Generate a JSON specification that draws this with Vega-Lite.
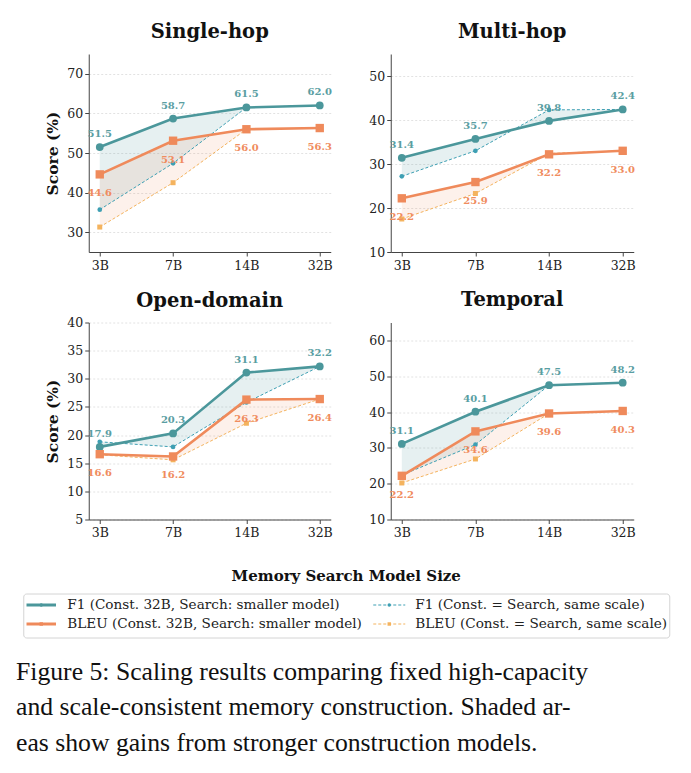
{
  "$schema": "https://vega.github.io/schema/vega-lite/v6.json",
  "padding": {"left": 16, "right": 5, "top": 21, "bottom": 8},
  "background": "white",
  "title": {
    "text": ["Figure 5: Scaling results comparing fixed high-capacity", "and scale-consistent memory construction. Shaded ar-", "eas show gains from stronger construction models."],
    "orient": "bottom",
    "anchor": "start",
    "dx": -4,
    "offset": 21.5,
    "font": "Liberation Serif",
    "fontSize": 25.7,
    "fontWeight": "normal",
    "color": "#111111",
    "lineHeight": 35.5
  },
  "datasets": {
    "scores": [
      {"panel": "Single-hop", "size": "3B", "f1": 51.5, "bleu": 44.6, "f1_same": 35.7, "bleu_same": 31.3},
      {"panel": "Single-hop", "size": "7B", "f1": 58.7, "bleu": 53.1, "f1_same": 47.4, "bleu_same": 42.5},
      {"panel": "Single-hop", "size": "14B", "f1": 61.5, "bleu": 56.0, "f1_same": 61.5, "bleu_same": 56.0},
      {"panel": "Single-hop", "size": "32B", "f1": 62.0, "bleu": 56.3, "f1_same": 62.0, "bleu_same": 56.3},
      {"panel": "Multi-hop", "size": "3B", "f1": 31.4, "bleu": 22.2, "f1_same": 27.2, "bleu_same": 17.5},
      {"panel": "Multi-hop", "size": "7B", "f1": 35.7, "bleu": 25.9, "f1_same": 33.0, "bleu_same": 23.3},
      {"panel": "Multi-hop", "size": "14B", "f1": 39.8, "bleu": 32.2, "f1_same": 42.3, "bleu_same": 32.4},
      {"panel": "Multi-hop", "size": "32B", "f1": 42.4, "bleu": 33.0, "f1_same": 42.4, "bleu_same": 33.0},
      {"panel": "Open-domain", "size": "3B", "f1": 17.9, "bleu": 16.6, "f1_same": 18.8, "bleu_same": 16.5},
      {"panel": "Open-domain", "size": "7B", "f1": 20.3, "bleu": 16.2, "f1_same": 17.9, "bleu_same": 15.6},
      {"panel": "Open-domain", "size": "14B", "f1": 31.1, "bleu": 26.3, "f1_same": 25.8, "bleu_same": 22.1},
      {"panel": "Open-domain", "size": "32B", "f1": 32.2, "bleu": 26.4, "f1_same": 32.2, "bleu_same": 26.4},
      {"panel": "Temporal", "size": "3B", "f1": 31.1, "bleu": 22.2, "f1_same": 22.4, "bleu_same": 20.2},
      {"panel": "Temporal", "size": "7B", "f1": 40.1, "bleu": 34.6, "f1_same": 30.9, "bleu_same": 26.9},
      {"panel": "Temporal", "size": "14B", "f1": 47.5, "bleu": 39.6, "f1_same": 47.5, "bleu_same": 39.6},
      {"panel": "Temporal", "size": "32B", "f1": 48.2, "bleu": 40.3, "f1_same": 48.2, "bleu_same": 40.3}
    ],
    "legendItems": [
      {"series": "F1 fixed", "label": "F1 (Const. 32B, Search: smaller model)", "construction": "Const. 32B", "metric": "F1"},
      {"series": "BLEU fixed", "label": "BLEU (Const. 32B, Search: smaller model)", "construction": "Const. 32B", "metric": "BLEU"},
      {"series": "F1 same", "label": "F1 (Const. = Search, same scale)", "construction": "Const. = Search", "metric": "F1"},
      {"series": "BLEU same", "label": "BLEU (Const. = Search, same scale)", "construction": "Const. = Search", "metric": "BLEU"}
    ]
  },
  "vconcat": [
    {
      "spacing": -16,
      "hconcat": [
        {
          "width": 1, "height": 1,
          "data": {"values": [{}]},
          "mark": {"type": "point", "opacity": 0},
          "encoding": {}
        },
        {
          "spacing": 17.5,
          "vconcat": [
            {
              "spacing": 36,
              "hconcat": [
                {
                  "title": "Single-hop",
                  "width": 242, "height": 198,
                  "data": {"name": "scores"},
                  "transform": [{"filter": "datum.panel === 'Single-hop'"}],
                  "encoding": {"x": {"field": "size", "type": "ordinal", "sort": ["3B", "7B", "14B", "32B"], "scale": {"type": "point", "padding": 0.15}, "title": null}},
                  "layer": [
                    {"mark": {"type": "area", "color": "#4b979b", "opacity": 0.14}, "encoding": {"y": {"field": "f1", "type": "quantitative", "scale": {"domain": [25, 75], "nice": false, "zero": false}, "axis": {"values": [30, 40, 50, 60, 70], "tickCount": 12}, "title": "Score (%)"}, "y2": {"field": "f1_same"}}},
                    {"mark": {"type": "area", "color": "#ef8a5b", "opacity": 0.12}, "encoding": {"y": {"field": "bleu", "type": "quantitative", "title": "Score (%)"}, "y2": {"field": "bleu_same"}}},
                    {"mark": {"type": "line", "color": "#3d9fb3", "strokeWidth": 1, "strokeDash": [3, 2], "point": {"filled": true, "size": 22, "color": "#3d9fb3"}}, "encoding": {"y": {"field": "f1_same", "type": "quantitative", "title": "Score (%)"}}},
                    {"mark": {"type": "line", "color": "#f4b35e", "strokeWidth": 1, "strokeDash": [3, 2], "point": {"filled": true, "shape": "square", "size": 25, "color": "#f4b35e"}}, "encoding": {"y": {"field": "bleu_same", "type": "quantitative", "title": "Score (%)"}}},
                    {"mark": {"type": "line", "color": "#4b979b", "strokeWidth": 2.6, "point": {"filled": true, "size": 60, "color": "#4b979b"}}, "encoding": {"y": {"field": "f1", "type": "quantitative", "title": "Score (%)"}}},
                    {"mark": {"type": "line", "color": "#ef8a5b", "strokeWidth": 2.6, "point": {"filled": true, "shape": "square", "size": 70, "color": "#ef8a5b"}}, "encoding": {"y": {"field": "bleu", "type": "quantitative", "title": "Score (%)"}}},
                    {"mark": {"type": "text", "dy": -13, "color": "#5a9ea2", "font": "DejaVu Serif", "fontWeight": "bold", "fontSize": 10}, "encoding": {"y": {"field": "f1", "type": "quantitative", "title": "Score (%)"}, "text": {"field": "f1", "type": "quantitative", "format": ".1f"}}},
                    {"mark": {"type": "text", "dy": 19, "color": "#f08c5e", "font": "DejaVu Serif", "fontWeight": "bold", "fontSize": 10}, "encoding": {"y": {"field": "bleu", "type": "quantitative", "title": "Score (%)"}, "text": {"field": "bleu", "type": "quantitative", "format": ".1f"}}}
                  ]
                },
                {
                  "title": "Multi-hop",
                  "width": 243, "height": 198,
                  "data": {"name": "scores"},
                  "transform": [{"filter": "datum.panel === 'Multi-hop'"}],
                  "encoding": {"x": {"field": "size", "type": "ordinal", "sort": ["3B", "7B", "14B", "32B"], "scale": {"type": "point", "padding": 0.15}, "title": null}},
                  "layer": [
                    {"mark": {"type": "area", "color": "#4b979b", "opacity": 0.14}, "encoding": {"y": {"field": "f1", "type": "quantitative", "scale": {"domain": [10, 55], "nice": false, "zero": false}, "axis": {"values": [10, 20, 30, 40, 50], "tickCount": 12}, "title": null}, "y2": {"field": "f1_same"}}},
                    {"mark": {"type": "area", "color": "#ef8a5b", "opacity": 0.12}, "encoding": {"y": {"field": "bleu", "type": "quantitative", "title": null}, "y2": {"field": "bleu_same"}}},
                    {"mark": {"type": "line", "color": "#3d9fb3", "strokeWidth": 1, "strokeDash": [3, 2], "point": {"filled": true, "size": 22, "color": "#3d9fb3"}}, "encoding": {"y": {"field": "f1_same", "type": "quantitative", "title": null}}},
                    {"mark": {"type": "line", "color": "#f4b35e", "strokeWidth": 1, "strokeDash": [3, 2], "point": {"filled": true, "shape": "square", "size": 25, "color": "#f4b35e"}}, "encoding": {"y": {"field": "bleu_same", "type": "quantitative", "title": null}}},
                    {"mark": {"type": "line", "color": "#4b979b", "strokeWidth": 2.6, "point": {"filled": true, "size": 60, "color": "#4b979b"}}, "encoding": {"y": {"field": "f1", "type": "quantitative", "title": null}}},
                    {"mark": {"type": "line", "color": "#ef8a5b", "strokeWidth": 2.6, "point": {"filled": true, "shape": "square", "size": 70, "color": "#ef8a5b"}}, "encoding": {"y": {"field": "bleu", "type": "quantitative", "title": null}}},
                    {"mark": {"type": "text", "dy": -13, "color": "#5a9ea2", "font": "DejaVu Serif", "fontWeight": "bold", "fontSize": 10}, "encoding": {"y": {"field": "f1", "type": "quantitative", "title": null}, "text": {"field": "f1", "type": "quantitative", "format": ".1f"}}},
                    {"mark": {"type": "text", "dy": 19, "color": "#f08c5e", "font": "DejaVu Serif", "fontWeight": "bold", "fontSize": 10}, "encoding": {"y": {"field": "bleu", "type": "quantitative", "title": null}, "text": {"field": "bleu", "type": "quantitative", "format": ".1f"}}}
                  ]
                }
              ]
            },
            {
              "spacing": 36,
              "hconcat": [
                {
                  "title": {"text": "Open-domain", "offset": 5.5},
                  "width": 242, "height": 197,
                  "data": {"name": "scores"},
                  "transform": [{"filter": "datum.panel === 'Open-domain'"}],
                  "encoding": {"x": {"field": "size", "type": "ordinal", "sort": ["3B", "7B", "14B", "32B"], "scale": {"type": "point", "padding": 0.15}, "title": null}},
                  "layer": [
                    {"mark": {"type": "area", "color": "#4b979b", "opacity": 0.14}, "encoding": {"y": {"field": "f1", "type": "quantitative", "scale": {"domain": [5, 40], "nice": false, "zero": false}, "axis": {"values": [5, 10, 15, 20, 25, 30, 35, 40], "tickCount": 12}, "title": "Score (%)"}, "y2": {"field": "f1_same"}}},
                    {"mark": {"type": "area", "color": "#ef8a5b", "opacity": 0.12}, "encoding": {"y": {"field": "bleu", "type": "quantitative", "title": "Score (%)"}, "y2": {"field": "bleu_same"}}},
                    {"mark": {"type": "line", "color": "#3d9fb3", "strokeWidth": 1, "strokeDash": [3, 2], "point": {"filled": true, "size": 22, "color": "#3d9fb3"}}, "encoding": {"y": {"field": "f1_same", "type": "quantitative", "title": "Score (%)"}}},
                    {"mark": {"type": "line", "color": "#f4b35e", "strokeWidth": 1, "strokeDash": [3, 2], "point": {"filled": true, "shape": "square", "size": 25, "color": "#f4b35e"}}, "encoding": {"y": {"field": "bleu_same", "type": "quantitative", "title": "Score (%)"}}},
                    {"mark": {"type": "line", "color": "#4b979b", "strokeWidth": 2.6, "point": {"filled": true, "size": 60, "color": "#4b979b"}}, "encoding": {"y": {"field": "f1", "type": "quantitative", "title": "Score (%)"}}},
                    {"mark": {"type": "line", "color": "#ef8a5b", "strokeWidth": 2.6, "point": {"filled": true, "shape": "square", "size": 70, "color": "#ef8a5b"}}, "encoding": {"y": {"field": "bleu", "type": "quantitative", "title": "Score (%)"}}},
                    {"mark": {"type": "text", "dy": -13, "color": "#5a9ea2", "font": "DejaVu Serif", "fontWeight": "bold", "fontSize": 10}, "encoding": {"y": {"field": "f1", "type": "quantitative", "title": "Score (%)"}, "text": {"field": "f1", "type": "quantitative", "format": ".1f"}}},
                    {"mark": {"type": "text", "dy": 19, "color": "#f08c5e", "font": "DejaVu Serif", "fontWeight": "bold", "fontSize": 10}, "encoding": {"y": {"field": "bleu", "type": "quantitative", "title": "Score (%)"}, "text": {"field": "bleu", "type": "quantitative", "format": ".1f"}}}
                  ]
                },
                {
                  "title": "Temporal",
                  "width": 243, "height": 197,
                  "data": {"name": "scores"},
                  "transform": [{"filter": "datum.panel === 'Temporal'"}],
                  "encoding": {"x": {"field": "size", "type": "ordinal", "sort": ["3B", "7B", "14B", "32B"], "scale": {"type": "point", "padding": 0.15}, "title": null}},
                  "layer": [
                    {"mark": {"type": "area", "color": "#4b979b", "opacity": 0.14}, "encoding": {"y": {"field": "f1", "type": "quantitative", "scale": {"domain": [10, 65], "nice": false, "zero": false}, "axis": {"values": [10, 20, 30, 40, 50, 60], "tickCount": 12}, "title": null}, "y2": {"field": "f1_same"}}},
                    {"mark": {"type": "area", "color": "#ef8a5b", "opacity": 0.12}, "encoding": {"y": {"field": "bleu", "type": "quantitative", "title": null}, "y2": {"field": "bleu_same"}}},
                    {"mark": {"type": "line", "color": "#3d9fb3", "strokeWidth": 1, "strokeDash": [3, 2], "point": {"filled": true, "size": 22, "color": "#3d9fb3"}}, "encoding": {"y": {"field": "f1_same", "type": "quantitative", "title": null}}},
                    {"mark": {"type": "line", "color": "#f4b35e", "strokeWidth": 1, "strokeDash": [3, 2], "point": {"filled": true, "shape": "square", "size": 25, "color": "#f4b35e"}}, "encoding": {"y": {"field": "bleu_same", "type": "quantitative", "title": null}}},
                    {"mark": {"type": "line", "color": "#4b979b", "strokeWidth": 2.6, "point": {"filled": true, "size": 60, "color": "#4b979b"}}, "encoding": {"y": {"field": "f1", "type": "quantitative", "title": null}}},
                    {"mark": {"type": "line", "color": "#ef8a5b", "strokeWidth": 2.6, "point": {"filled": true, "shape": "square", "size": 70, "color": "#ef8a5b"}}, "encoding": {"y": {"field": "bleu", "type": "quantitative", "title": null}}},
                    {"mark": {"type": "text", "dy": -13, "color": "#5a9ea2", "font": "DejaVu Serif", "fontWeight": "bold", "fontSize": 10}, "encoding": {"y": {"field": "f1", "type": "quantitative", "title": null}, "text": {"field": "f1", "type": "quantitative", "format": ".1f"}}},
                    {"mark": {"type": "text", "dy": 19, "color": "#f08c5e", "font": "DejaVu Serif", "fontWeight": "bold", "fontSize": 10}, "encoding": {"y": {"field": "bleu", "type": "quantitative", "title": null}, "text": {"field": "bleu", "type": "quantitative", "format": ".1f"}}}
                  ]
                }
              ]
            }
          ]
        }
      ]
    },
    {
      "title": {"text": "Memory Search Model Size", "fontSize": 15, "offset": 10},
      "width": 646, "height": 44,
      "view": {"stroke": "#d4d4d4", "strokeWidth": 1, "cornerRadius": 3, "fill": "white"},
      "data": {"name": "legendItems"},
      "encoding": {
        "x": {"field": "construction", "type": "nominal", "scale": {"type": "point", "domain": ["Const. 32B", "Const. = Search"], "range": [18, 366], "padding": 0}, "axis": null},
        "y": {"field": "metric", "type": "nominal", "scale": {"type": "point", "domain": ["F1", "BLEU"], "range": [11.5, 30.5], "padding": 0}, "axis": null},
        "color": {"field": "series", "type": "nominal", "scale": {"domain": ["F1 fixed", "BLEU fixed", "F1 same", "BLEU same"], "range": ["#4b979b", "#ef8a5b", "#3d9fb3", "#f4b35e"]}, "legend": null}
      },
      "layer": [
        {"transform": [{"filter": "datum.construction === 'Const. 32B'"}], "mark": {"type": "point", "shape": "stroke", "filled": false, "size": 870, "strokeWidth": 3, "opacity": 1}},
        {"transform": [{"filter": "datum.construction !== 'Const. 32B'"}], "mark": {"type": "point", "shape": "stroke", "filled": false, "size": 1024, "strokeWidth": 1, "strokeDash": [3, 2], "opacity": 1}},
        {"mark": {"type": "point", "filled": true, "size": 12, "opacity": 1}, "encoding": {"shape": {"field": "metric", "type": "nominal", "scale": {"domain": ["F1", "BLEU"], "range": ["circle", "square"]}, "legend": null}}},
        {"mark": {"type": "text", "align": "left", "dx": 26, "font": "DejaVu Serif", "fontSize": 13.6}, "encoding": {"text": {"field": "label"}, "color": {"value": "#222222"}}}
      ]
    }
  ],
  "spacing": 28.5,
  "center": true,
  "config": {
    "font": "DejaVu Serif",
    "view": {"stroke": null},
    "title": {"font": "DejaVu Serif", "fontSize": 19.5, "fontWeight": "bold", "color": "#111111", "anchor": "middle", "offset": 12},
    "axis": {"domainColor": "#444444", "tickColor": "#444444", "labelFont": "DejaVu Serif", "labelFontSize": 12.5, "labelColor": "#222222", "titleFont": "DejaVu Serif", "titleFontSize": 15.5, "titleFontWeight": "bold", "titleColor": "#111111", "tickSize": 4, "labelOverlap": false},
    "axisX": {"grid": false, "labelAngle": 0, "labelPadding": 3},
    "axisY": {"grid": true, "gridColor": "#d6d6d6", "gridDash": [2, 2], "gridOpacity": 0.7, "titlePadding": 6, "labelPadding": 2}
  }
}
